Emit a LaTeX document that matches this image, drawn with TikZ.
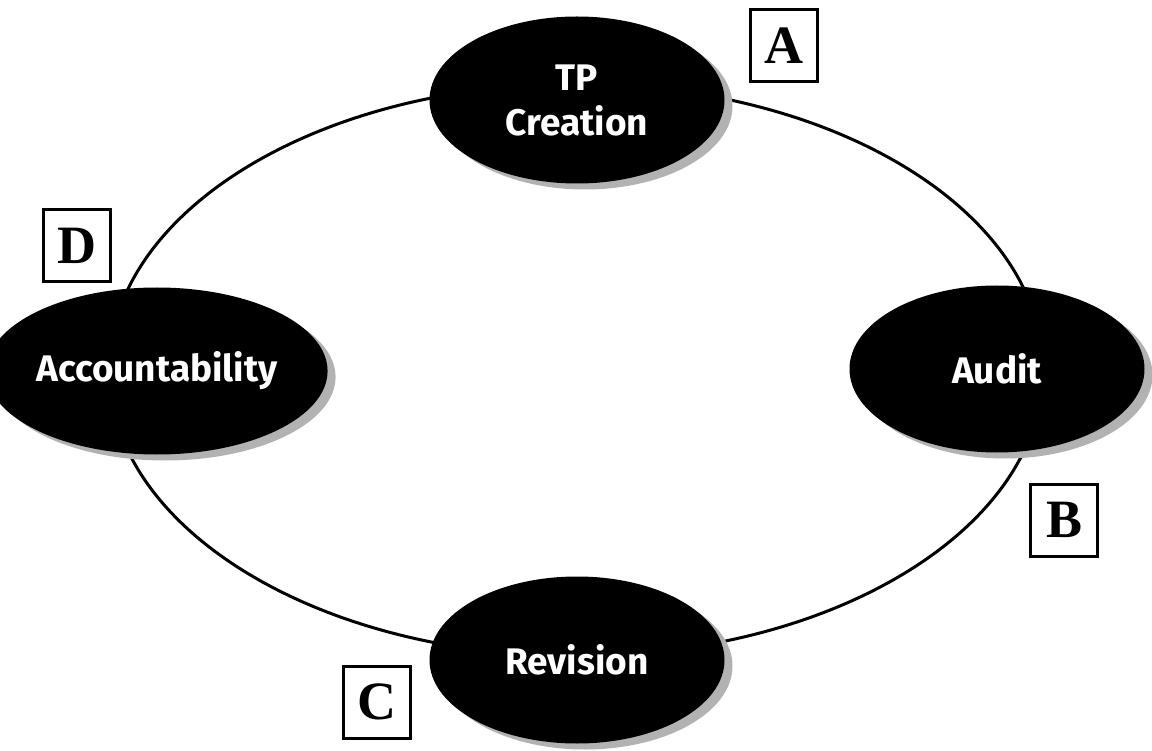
\documentclass[tikz,border=0pt]{standalone}
\usepackage{fontspec}
\setmainfont{Liberation Serif}
\newfontfamily\stagefont{Fira Sans}
\usetikzlibrary{shapes.geometric,shadows}

\begin{document}
\begin{tikzpicture}[x=1pt,y=-1pt]
        \tikzset{stage/.style={ellipse,fill=black,minimum width=295pt,minimum height=167pt,
            inner sep=0pt,text=white,align=center,
            font=\stagefont\bfseries\fontsize{37}{45}\selectfont,
            drop shadow={shadow xshift=8pt,shadow yshift=-6pt,fill=black!30,opacity=1}},
          tag/.style={draw,line width=3pt,minimum width=67pt,minimum height=72pt,
            inner sep=0pt,font=\bfseries\fontsize{54}{60}\selectfont},
          cycle line/.style={line width=3pt}}
        \useasboundingbox (0,0) rectangle (1152,751);
        \coordinate (hub) at (576,370);
        \draw[cycle line] (hub) ellipse [x radius=467pt, y radius=286pt];
        \node[stage] (tp) at (577,100) {TP\\Creation};
        \node[stage] (audit) at (997,369) {Audit};
        \node[stage] (revision) at (577,660) {Revision};
        \node[stage] (account) at (157,371) {Accountability};
        \node[tag] (a) at (784,46) {A};
        \node[tag] (b) at (1064,520) {B};
        \node[tag] (c) at (377,702) {C};
        \node[tag] (d) at (77,246) {D};
      \end{tikzpicture}
\end{document}
